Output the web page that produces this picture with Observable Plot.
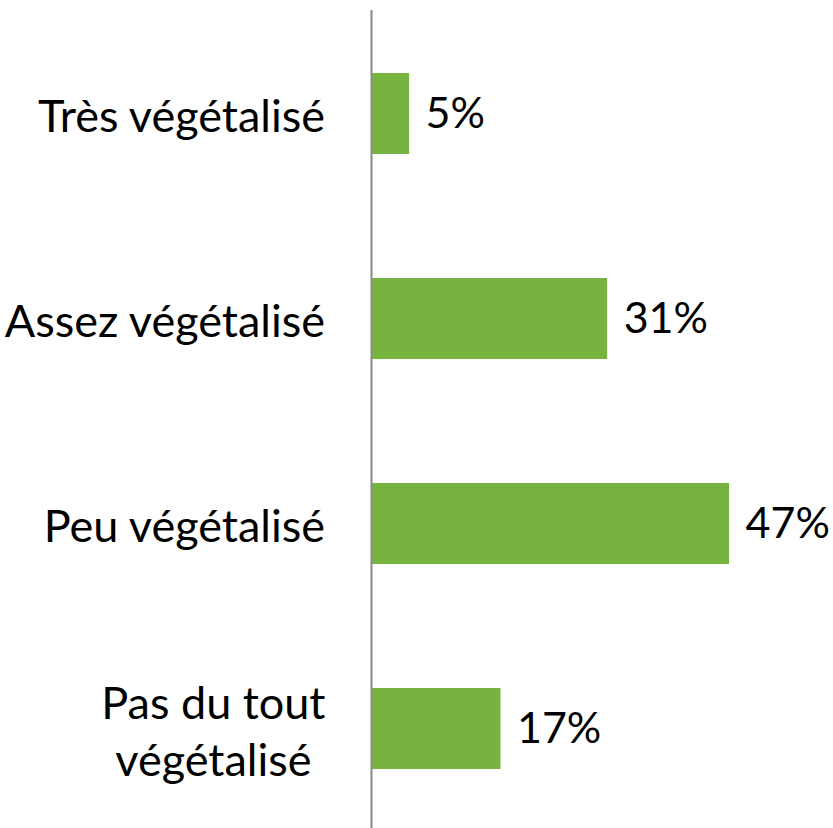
<!DOCTYPE html>
<html>
<head>
<meta charset="utf-8">
<script src="https://cdn.jsdelivr.net/npm/d3@7"></script>
<script src="https://cdn.jsdelivr.net/npm/@observablehq/plot@0.6"></script>
<style>
  html, body { margin: 0; padding: 0; background: #fff; }
  #chart svg { display: block; }
</style>
</head>
<body>
<div id="chart"></div>
<script>
const categories = ["Très végétalisé", "Assez végétalisé", "Peu végétalisé", "Pas du tout\nvégétalisé"];
const values = [5, 31, 47, 17];
const valueLabels = ["5%", "31%", "47%", "17%"];

const data = categories.map((c, i) => ({cat: c, v: values[i], label: valueLabels[i]}));

const FONT = "Lato, 'Open Sans', sans-serif";
const FS = 45;

// measure label block widths so multi-line labels are centred within a right-aligned block
const ctx = document.createElement("canvas").getContext("2d");
ctx.font = `${FS}px Lato`;
const blockWidth = c => d3.max(c.split("\n"), s => ctx.measureText(s).width);

const labelMarks = data.map(d =>
  Plot.text([d], {
    x: 0, y: "cat", text: "cat",
    textAnchor: "middle",
    dx: -46 - blockWidth(d.cat) / 2,
    fontSize: FS, fill: "#000", lineHeight: 1.27
  })
);

const chart = Plot.plot({
  width: 833,
  height: 828,
  marginLeft: 0,
  marginRight: 0,
  marginTop: 10,
  marginBottom: 0,
  style: {fontFamily: FONT, background: "#fff"},
  x: {domain: [0, d3.max(values)], range: [371, 729], axis: null},
  y: {domain: categories, range: [10, 832], paddingInner: 0.606, paddingOuter: 0.303, axis: null},
  marks: [
    Plot.barX(data, {x: "v", y: "cat", fill: "#77b43f"}),
    Plot.ruleX([0], {stroke: "#8a8a8a", strokeWidth: 2}),
    ...labelMarks,
    Plot.text(data, {x: "v", y: "cat", text: "label", textAnchor: "start", dx: 16, fontSize: 43, fill: "#000"})
  ]
});
document.getElementById("chart").appendChild(chart);
</script>
</body>
</html>
